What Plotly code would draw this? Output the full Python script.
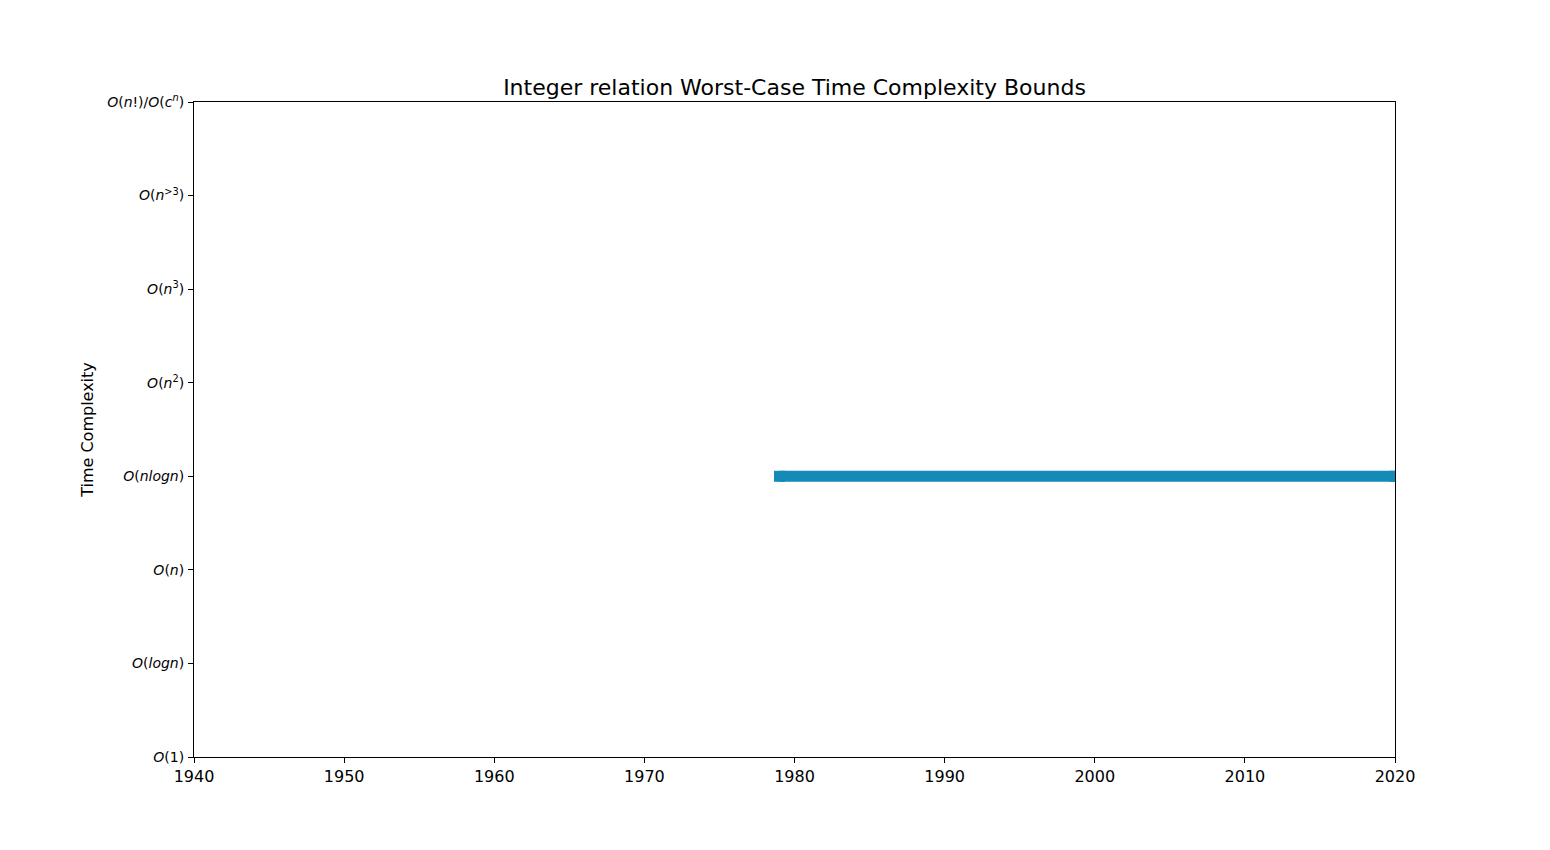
import plotly.graph_objects as go

# Data
complexity_labels = [
    "<i>O</i>(1)",
    "<i>O</i>(<i>logn</i>)",
    "<i>O</i>(<i>n</i>)",
    "<i>O</i>(<i>nlogn</i>)",
    "<i>O</i>(<i>n</i><sup>2</sup>)",
    "<i>O</i>(<i>n</i><sup>3</sup>)",
    "<i>O</i>(<i>n</i><sup>&gt;3</sup>)",
    "<i>O</i>(<i>n</i>!)/<i>O</i>(<i>c</i><sup><i>n</i></sup>)",
]
complexity_levels = list(range(len(complexity_labels)))
bound_years = [1979, 2020]
bound_levels = [3, 3]
year_ticks = [1940, 1950, 1960, 1970, 1980, 1990, 2000, 2010, 2020]

COLOR = "#138ab8"

fig = go.Figure()
fig.add_trace(go.Scatter(
    x=bound_years, y=bound_levels, mode="lines+markers",
    line=dict(color=COLOR, width=11),
    marker=dict(symbol="square", size=11, color=COLOR, line=dict(width=0)),
    showlegend=False, hoverinfo="skip",
))

axis_common = dict(
    showline=True, linecolor="black", linewidth=1, mirror=True,
    ticks="outside", ticklen=5, tickwidth=1, tickcolor="black",
    showgrid=False, zeroline=False,
)

fig.update_layout(
    width=1550, height=850,
    margin=dict(l=194, r=155, t=102, b=93),
    plot_bgcolor="white", paper_bgcolor="white",
    font=dict(family="DejaVu Sans", color="black"),
    title=dict(text="Integer relation Worst-Case Time Complexity Bounds",
               x=0.5, xref="paper", xanchor="center",
               y=1 - 87 / 850, yanchor="middle",
               font=dict(size=22, family="DejaVu Sans", color="black")),
    xaxis=dict(range=[1940, 2020], tickvals=year_ticks,
               ticktext=[str(v) for v in year_ticks],
               tickfont=dict(size=16), **axis_common),
    yaxis=dict(range=[0, 7], tickvals=complexity_levels, ticktext=complexity_labels,
               tickfont=dict(size=14), ticklabelstandoff=1,
               title=dict(text="Time Complexity", font=dict(size=16), standoff=9),
               **axis_common),
)

fig.write_html("out.html")
